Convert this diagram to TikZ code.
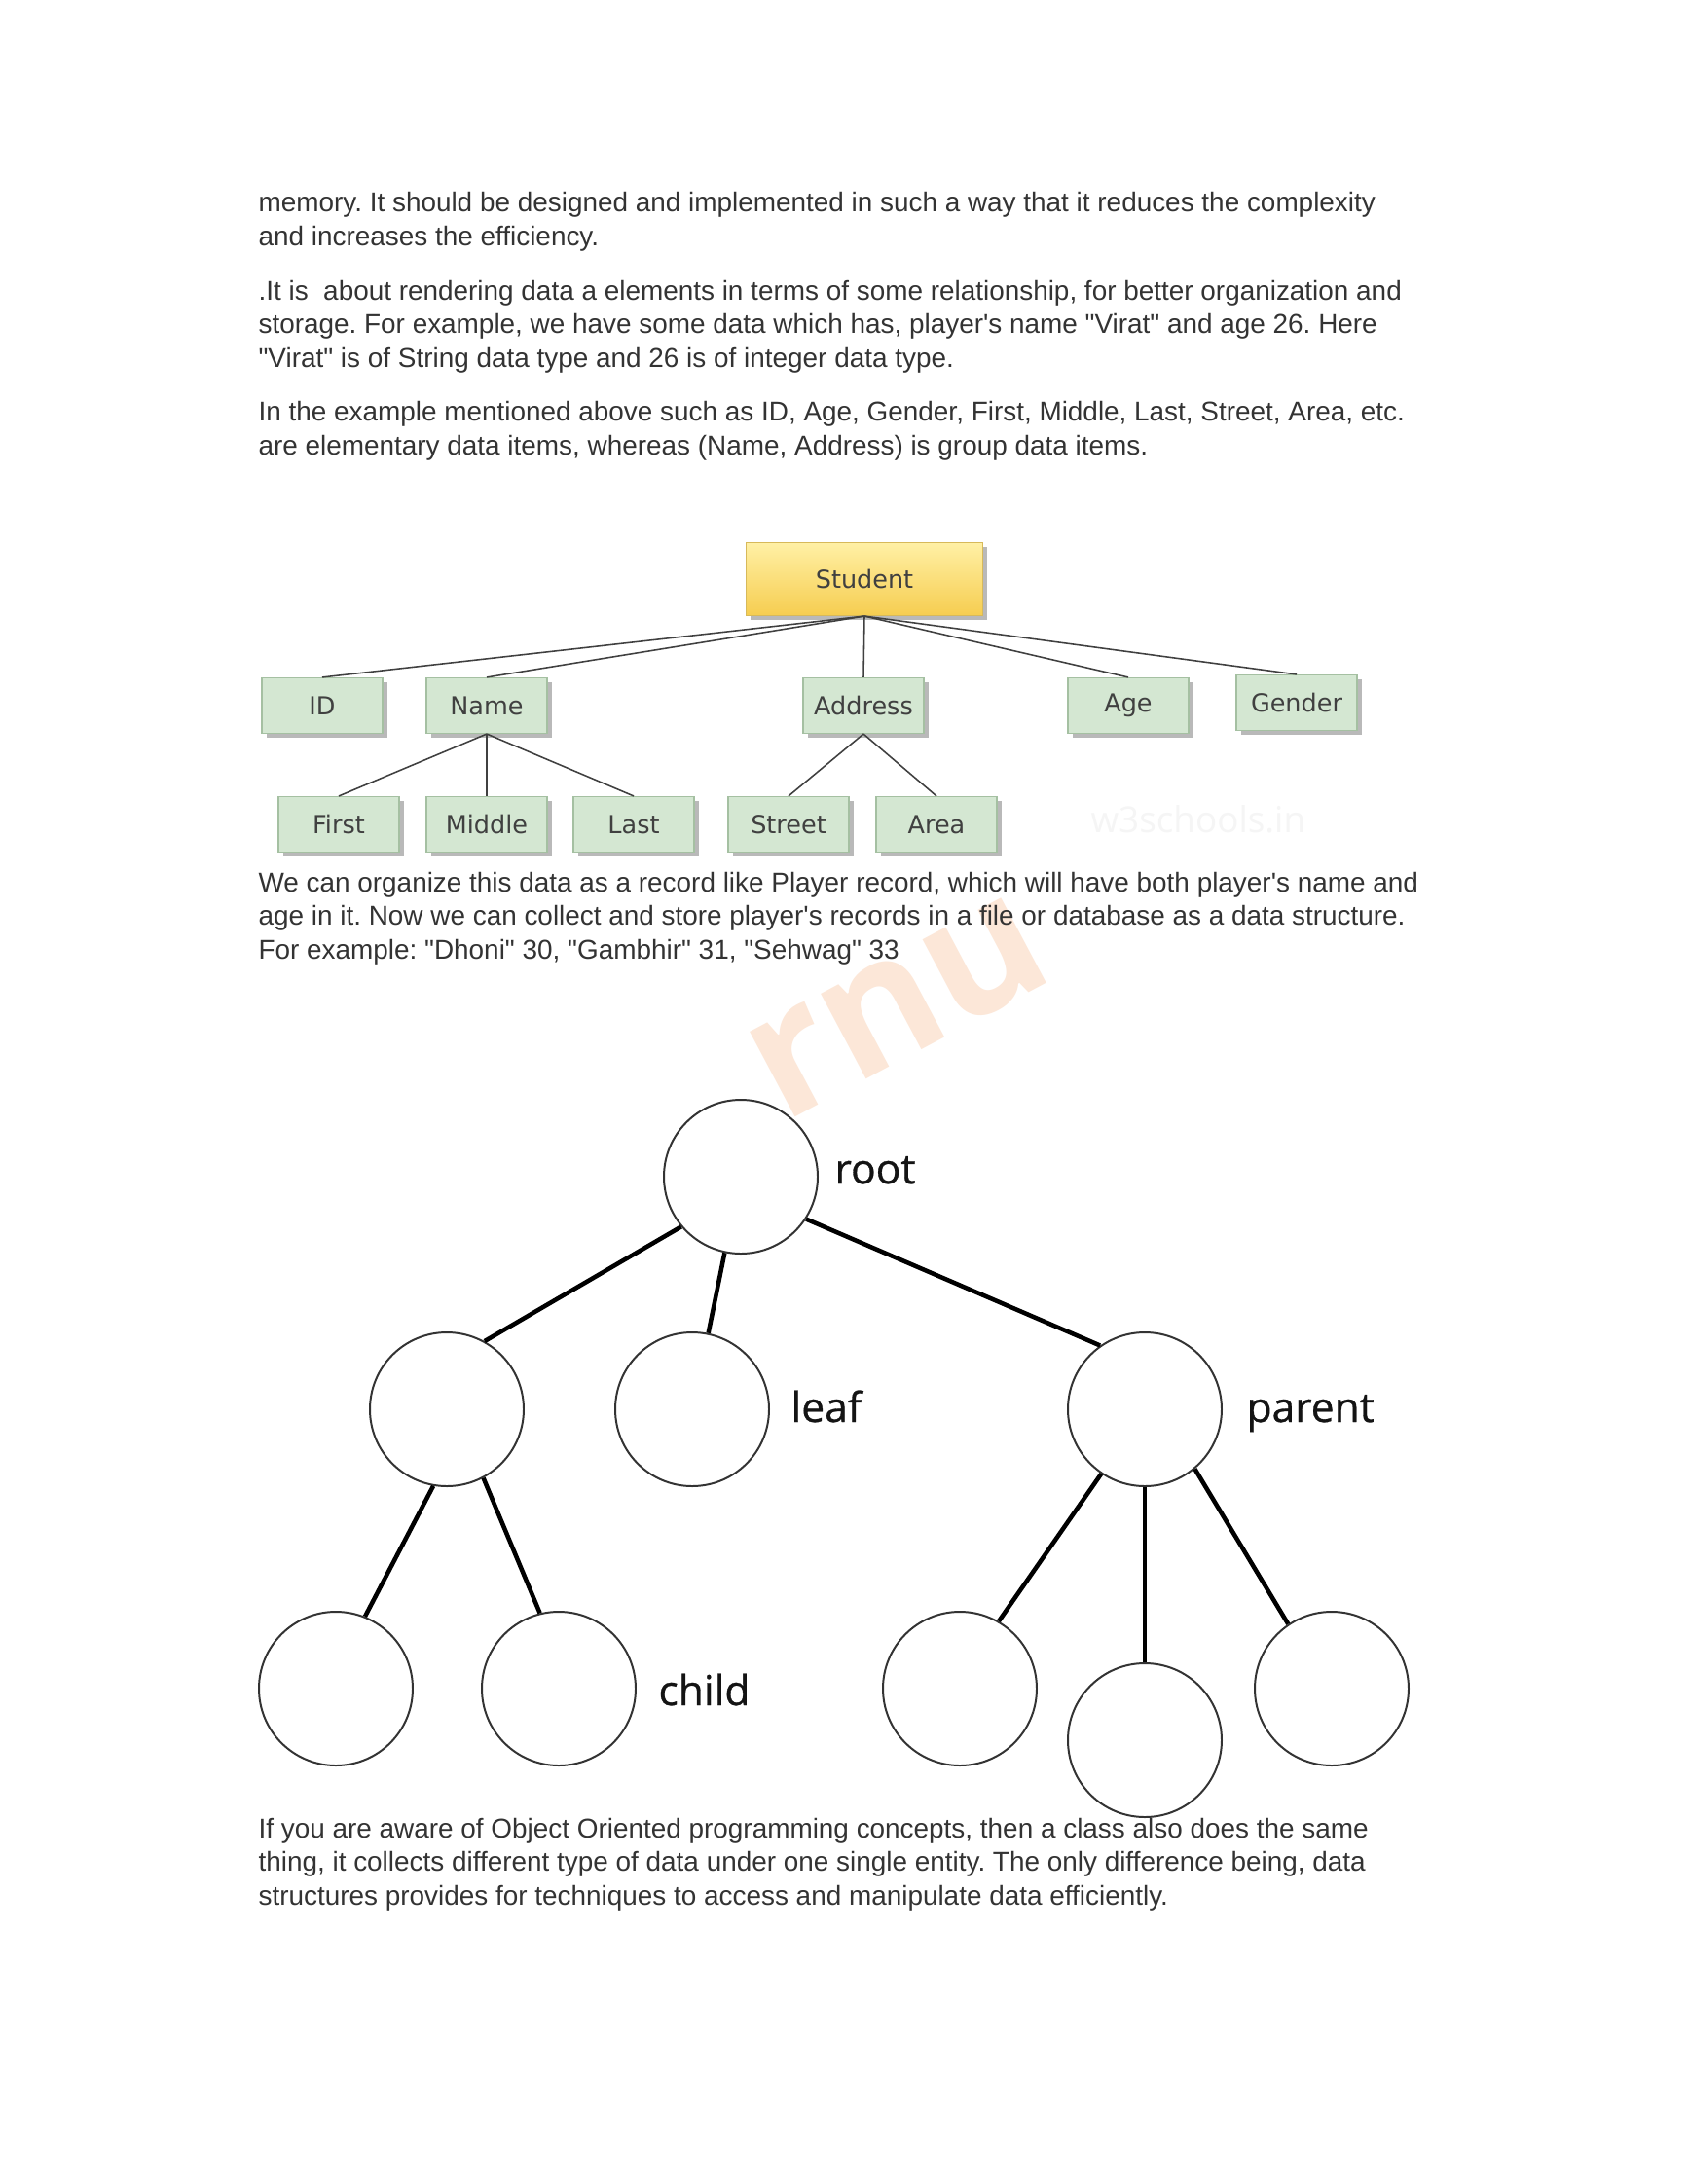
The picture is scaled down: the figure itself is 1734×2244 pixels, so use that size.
\documentclass[tikz,border=0pt]{standalone}
\usepackage{fontspec}
\setmainfont{Liberation Sans}
\newfontfamily\boxfont{DejaVu Sans}
\newfontfamily\labfont{Open Sans}
\newfontface\labface{Open Sans}[FakeBold=0.7]
\usetikzlibrary{shadows}
\newdimen\pxu \pxu=0.35294pt
\newcommand{\dq}{\textquotedbl}
\newcommand{\sq}{\textquotesingle}
\definecolor{boxgreen}{RGB}{212,231,210}
\definecolor{boxedge}{RGB}{165,192,162}
\definecolor{stutop}{RGB}{255,240,165}
\definecolor{stubot}{RGB}{246,205,80}
\definecolor{stuedge}{RGB}{215,185,90}
\definecolor{wmorange}{RGB}{252,231,216}
\begin{document}
\frenchspacing
\begin{tikzpicture}[x=0.35294pt,y=-0.35294pt,
  txt/.style={anchor=base west, inner sep=0pt, text=black!80, font=\fontsize{9.85}{12}\selectfont},
  gbox/.style={draw=boxedge, fill=boxgreen, line width=0.4pt, minimum width=124\pxu, minimum height=57\pxu, inner sep=0pt,
    font=\boxfont\fontsize{9}{11}\selectfont, text=black!75,
    drop shadow={shadow xshift=1.7pt, shadow yshift=-1.7pt, fill=black!30, opacity=0.9}},
  sbox/.style={gbox, draw=stuedge, top color=stutop, bottom color=stubot, minimum width=243\pxu, minimum height=75\pxu},
  gline/.style={draw=black!75, line width=0.55pt},
  circ/.style={circle, draw=black!80, line width=0.7pt, minimum size=158\pxu, inner sep=0pt},
  tline/.style={draw=black, line width=1.6pt},
  lab/.style={anchor=base west, inner sep=0pt, text=black!92, font=\labface\fontsize{15}{18}\selectfont}
]
\fill[white] (0,0) rectangle (1734,2244);
\useasboundingbox (0,0) rectangle (1734,2244);

% faint watermarks
\node[rotate=28, inner sep=0pt, text=wmorange, font=\labfont\bfseries\fontsize{64}{66}\selectfont] (wmb) at (923,1035) {rnu};
\node[anchor=base west, inner sep=0pt, text=black!4, font=\labfont\fontsize{13}{15}\selectfont] (wma) at (1120,855) {w3schools.in};

% paragraphs
\node[txt] (p1) at (265,217) {memory. It should be designed and implemented in such a way that it reduces the complexity};
\node[txt] (p2) at (265,252) {and increases the efficiency.};
\node[txt] (p3) at (265,308) {.It is\ \ about rendering data a elements in terms of some relationship, for better organization and};
\node[txt] (p4) at (265,342) {storage. For example, we have some data which has, player\sq s name \dq Virat\dq{} and age 26. Here};
\node[txt] (p5) at (265,377) {\dq Virat\dq{} is of String data type and 26 is of integer data type.};
\node[txt] (p6) at (265,432) {In the example mentioned above such as ID, Age, Gender, First, Middle, Last, Street, Area, etc.};
\node[txt] (p7) at (265,467) {are elementary data items, whereas (Name, Address) is group data items.};
\node[txt] (p8) at (265,916) {We can organize this data as a record like Player record, which will have both player\sq s name and};
\node[txt] (p9) at (265,950) {age in it. Now we can collect and store player\sq s records in a file or database as a data structure.};
\node[txt] (p10) at (265,985) {For example: \dq Dhoni\dq{} 30, \dq Gambhir\dq{} 31, \dq Sehwag\dq{} 33};
\node[txt] (p11) at (265,1888) {If you are aware of Object Oriented programming concepts, then a class also does the same};
\node[txt] (p12) at (265,1922) {thing, it collects different type of data under one single entity. The only difference being, data};
\node[txt] (p13) at (265,1957) {structures provides for techniques to access and manipulate data efficiently.};

% Student tree
\node[sbox] (stu) at (888,595) {Student};
\node[gbox] (id) at (331,725) {ID};
\node[gbox] (name) at (500,725) {Name};
\node[gbox] (addr) at (887,725) {Address};
\node[gbox] (age) at (1159,725) {Age};
\node[gbox] (gen) at (1332,722) {Gender};
\node[gbox] (first) at (348,847) {First};
\node[gbox] (mid) at (500,847) {Middle};
\node[gbox] (last) at (651,847) {Last};
\node[gbox] (street) at (810,847) {Street};
\node[gbox] (area) at (962,847) {Area};

\draw[gline] (stu.south) -- (id.north);
\draw[gline] (stu.south) -- (name.north);
\draw[gline] (stu.south) -- (addr.north);
\draw[gline] (stu.south) -- (age.north);
\draw[gline] (stu.south) -- (gen.north);
\draw[gline] (name.south) -- (first.north);
\draw[gline] (name.south) -- (mid.north);
\draw[gline] (name.south) -- (last.north);
\draw[gline] (addr.south) -- (street.north);
\draw[gline] (addr.south) -- (area.north);

% generic tree
\node[circ] (root) at (761,1209) {};
\node[circ] (lc) at (459,1448) {};
\node[circ] (leaf) at (711,1448) {};
\node[circ] (par) at (1176,1448) {};
\node[circ] (c1) at (345,1735) {};
\node[circ] (c2) at (574,1735) {};
\node[circ] (c3) at (986,1735) {};
\node[circ] (c4) at (1176,1788) {};
\node[circ] (c5) at (1368,1735) {};

\draw[tline] (root.220) -- (lc.61);
\draw[tline] (root.258) -- (leaf.78);
\draw[tline] (root.-33) -- (par.125);
\draw[tline] (lc.260) -- (c1.68);
\draw[tline] (lc.298) -- (c2.104);
\draw[tline] (par.236) -- (c3.60);
\draw[tline] (par.south) -- (c4.north);
\draw[tline] (par.310) -- (c5.124);

\node[lab] (lroot) at (857,1216) {root};
\node[lab] (lleaf) at (812,1461) {leaf};
\node[lab] (lpar) at (1280,1461) {parent};
\node[lab] (lchild) at (676,1752) {child};
\end{tikzpicture}
\end{document}
